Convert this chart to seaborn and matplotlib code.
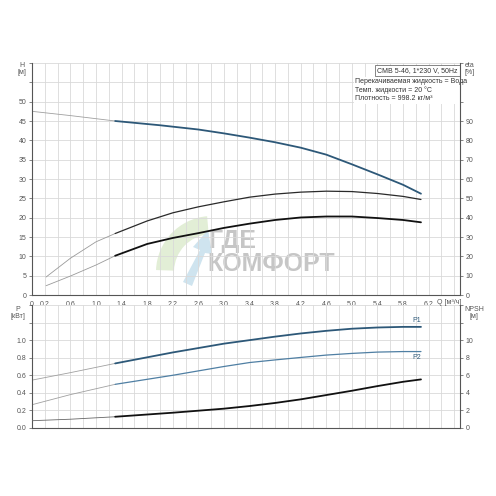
import numpy as np
import pandas as pd
import matplotlib
matplotlib.use("Agg")
import matplotlib.pyplot as plt
from matplotlib.patches import Wedge, Polygon
import seaborn as sns

# ---- data ----
q_h = [0, 0.6, 1.3, 2.0, 2.6, 3.0, 3.4, 3.8, 4.2, 4.6, 5.0, 5.4, 5.8, 6.08]
head = [47.5, 46.4, 45.0, 43.9, 42.8, 41.8, 40.7, 39.5, 38.1, 36.3, 33.8, 31.2, 28.5, 26.2]

q_eta = [0.22, 0.6, 1.0, 1.3, 1.8, 2.2, 2.6, 3.0, 3.4, 3.8, 4.2, 4.6, 5.0, 5.4, 5.8, 6.08]
eta_pump = [9.3, 19.0, 27.5, 31.8, 38.3, 42.5, 45.6, 48.2, 50.6, 52.2, 53.2, 53.7, 53.5, 52.5, 51.0, 49.4]
eta_total = [4.8, 9.8, 15.5, 20.3, 26.4, 29.5, 32.0, 34.7, 36.9, 38.8, 40.1, 40.6, 40.6, 39.8, 38.8, 37.6]

q_p = [0, 0.6, 1.3, 2.2, 3.0, 3.4, 3.8, 4.2, 4.6, 5.0, 5.4, 5.8, 6.08]
p1 = [0.545, 0.63, 0.735, 0.86, 0.96, 1.0, 1.04, 1.076, 1.106, 1.13, 1.144, 1.151, 1.151]
p2 = [0.265, 0.38, 0.497, 0.60, 0.70, 0.745, 0.775, 0.803, 0.83, 0.849, 0.864, 0.87, 0.87]
npsh = [0.83, 1.0, 1.28, 1.74, 2.2, 2.5, 2.85, 3.26, 3.75, 4.24, 4.77, 5.26, 5.53]

q_split = 1.3  # thin (out of range) part left of this flow

x_labels = ["0", "0.2", "0.6", "1.0", "1.4", "1.8", "2.2", "2.6", "3.0", "3.4",
            "3.8", "4.2", "4.6", "5.0", "5.4", "5.8", "6.2"]

sns.set_style("white")
plt.rcParams["font.family"] = ["Liberation Sans", "DejaVu Sans"]

blue = "#2d5878"
blue2 = "#4f7fa3"
black = "#111111"
thin = "#a0a0a0"
grid = "#d9d9d9"
spine = "#555555"
fs = 5.0


def draw(ax, q, y, color, lw, thin_color=thin):
    df = pd.DataFrame({"q": q, "y": y})
    lo = df[df.q <= q_split]
    hi = df[df.q >= q_split]
    sns.lineplot(data=lo, x="q", y="y", ax=ax, color=thin_color, lw=0.6)
    sns.lineplot(data=hi, x="q", y="y", ax=ax, color=color, lw=lw)


def style(ax, ymax, ystep):
    ax.set_xlim(0, 6.69)
    ax.set_ylim(0, ymax)
    ax.set_xticks(np.arange(0, 6.69, 0.2))
    ax.set_yticks(np.arange(0, ymax + 0.001, ystep))
    ax.grid(True, color=grid, lw=0.6)
    for s in ax.spines.values():
        s.set_visible(False)
    for side in ["left", "bottom"]:
        ax.spines[side].set_visible(True)
        ax.spines[side].set_color(spine)
        ax.spines[side].set_linewidth(0.8)
    ax.tick_params(length=2.5, width=0.5, colors=spine, labelsize=fs, pad=1.5)
    ax.set_xlabel("")
    ax.set_ylabel("")


def style_right(ax):
    ax.grid(False)
    for s in ax.spines.values():
        s.set_visible(False)
    ax.spines["right"].set_visible(True)
    ax.spines["right"].set_color(spine)
    ax.spines["right"].set_linewidth(0.8)
    ax.tick_params(length=2.5, width=0.5, colors=spine, labelsize=fs, pad=1.5)
    ax.set_ylabel("")


fig = plt.figure(figsize=(4.96, 4.96), dpi=100)

# ---- top panel: H and eta ----
ax1 = fig.add_axes([32 / 496, 1 - 295 / 496, 428 / 496, 232 / 496])
ax1r = ax1.twinx()

# watermark logo (faint) behind everything
fig.patches.append(Wedge((212 / 496, 1 - 272 / 496), 56 / 496, 95, 178, width=18 / 496,
                         transform=fig.transFigure, fc="#e2eed6", ec="none", zorder=-1))
fig.patches.append(Polygon([(183 / 496, 1 - 282 / 496), (200 / 496, 1 - 250 / 496),
                            (193 / 496, 1 - 247 / 496), (208 / 496, 1 - 230 / 496),
                            (212 / 496, 1 - 254 / 496), (205 / 496, 1 - 253 / 496),
                            (192 / 496, 1 - 286 / 496)], closed=True,
                           transform=fig.transFigure, fc="#cfe4ef", ec="none", zorder=-1))
ax1.patch.set_alpha(0)
ax1.text(2.76, 13.9, "ГДЕ", fontsize=18, fontweight="bold", color="#c6c6c6",
         ha="left", va="center", zorder=0)
ax1.text(2.74, 8.0, "КОМФОРТ", fontsize=18, fontweight="bold", color="#c6c6c6",
         ha="left", va="center", zorder=0)

draw(ax1, q_h, head, blue, 1.3)
draw(ax1r, q_eta, eta_pump, "#2a2a2a", 0.9, thin_color="#9a9a9a")
draw(ax1r, q_eta, eta_total, black, 1.3, thin_color="#9a9a9a")
style(ax1, 60, 5)
ax1.set_yticklabels([str(v) if v <= 50 else "" for v in range(0, 61, 5)])
ax1.set_xticklabels([x_labels[i // 2 + 1] if (i % 2 == 1 and i // 2 + 1 < len(x_labels))
                     else ("0" if i == 0 else "") for i in range(len(ax1.get_xticks()))])
ax1r.set_ylim(0, 120)
ax1r.set_yticks(np.arange(0, 121, 10))
ax1r.set_yticklabels([str(v) if v <= 90 else "" for v in range(0, 121, 10)])
style_right(ax1r)

fig.text(437 / 496, 1 - 303 / 496, "Q [м³/ч]", fontsize=fs, color=spine, ha="left",
         va="center", zorder=10)
fig.text(22 / 496, 1 - 62 / 496, "H\n[м]", fontsize=fs, color=spine, ha="center", va="top",
         linespacing=1.1)
fig.text(470 / 496, 1 - 62 / 496, "eta\n[%]", fontsize=fs, color=spine, ha="center", va="top",
         linespacing=1.1)
ax1.text(6.655, 58.9, "CMB 5-46, 1*230 V, 50Hz", fontsize=fs, color="#333333", ha="right",
         va="top", bbox=dict(boxstyle="square,pad=0.3", fc="white", ec="#555555", lw=0.5))
ax1.text(5.05, 56.0, "Перекачиваемая жидкость = Вода\nТемп. жидкости = 20 °C\n"
         "Плотность = 998.2 кг/м³", fontsize=fs, color="#333333", ha="left", va="top",
         linespacing=1.2, bbox=dict(boxstyle="square,pad=0.2", fc="white", ec="none"))

# ---- bottom panel: P1, P2 and NPSH ----
ax2 = fig.add_axes([32 / 496, 1 - 428 / 496, 428 / 496, 123 / 496])
ax2r = ax2.twinx()
draw(ax2, q_p, p1, blue, 1.3)
draw(ax2, q_p, p2, blue2, 0.9)
draw(ax2r, q_p, npsh, black, 1.3, thin_color="#666666")
style(ax2, 1.4, 0.2)
ax2.set_yticklabels([f"{v:.1f}" if v <= 1.01 else "" for v in np.arange(0, 1.41, 0.2)])
ax2.set_xticklabels([])
ax2.tick_params(axis="x", length=0)
ax2r.set_ylim(0, 14)
ax2r.set_yticks(np.arange(0, 15, 2))
ax2r.set_yticklabels([str(v) if v <= 10 else "" for v in range(0, 15, 2)])
style_right(ax2r)

ax2.text(q_p[-1], p1[-1] + 0.03, "P1", fontsize=fs, color=blue, ha="right", va="bottom")
ax2.text(q_p[-1], p2[-1] - 0.03, "P2", fontsize=fs, color=blue, ha="right", va="top")
fig.text(18 / 496, 1 - 306 / 496, "P\n[кВт]", fontsize=fs, color=spine, ha="center", va="top",
         linespacing=1.1)
fig.text(474 / 496, 1 - 306 / 496, "NPSH\n[м]", fontsize=fs, color=spine, ha="center", va="top",
         linespacing=1.1)

fig.savefig("out.png", dpi=100, facecolor="white")
